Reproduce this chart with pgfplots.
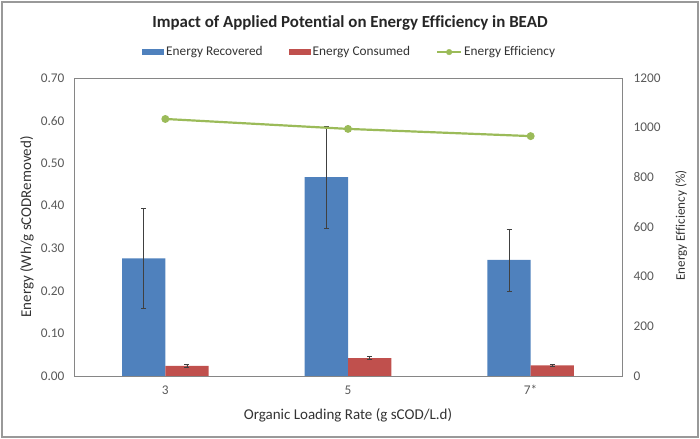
\documentclass[border=0pt]{standalone}
\usepackage{pgfplots}
\pgfplotsset{compat=1.18}
\usepackage{fontspec}
\setmainfont{Carlito}[Ligatures={NoCommon,NoRequired,NoContextual}]
\definecolor{cblue}{HTML}{4F81BD}
\definecolor{cred}{HTML}{C0504D}
\definecolor{cgreen}{HTML}{9BBB59}
\definecolor{ctext}{HTML}{595959}
\definecolor{caxis}{HTML}{868686}
\definecolor{cerr}{HTML}{404040}
\newcommand{\fs}{\fontsize{13.3bp}{15bp}\selectfont}
\newcommand{\fl}{\fontsize{15bp}{17bp}\selectfont}
\begin{document}
\begin{tikzpicture}
\useasboundingbox (0bp,0bp) rectangle (700bp,439bp);
\draw[line width=2bp, color=black!40] (2bp,2bp) rectangle (698bp,437bp);
\node[font=\fontsize{16.9bp}{19bp}\selectfont\bfseries, text=black!85] at (350bp,416bp) {Impact of Applied Potential on Energy Efficiency in BEAD};
\begin{axis}[
  at={(74bp,63bp)}, anchor=south west,
  scale only axis, width=548bp, height=298bp,
  xmin=-0.5, xmax=2.5, ymin=0, ymax=0.7,
  xtick={0,1,2}, xticklabels={3,5,7*},
  ytick={0,0.1,0.2,0.3,0.4,0.5,0.6,0.7},
  yticklabels={0.00,0.10,0.20,0.30,0.40,0.50,0.60,0.70},
  major tick length=0pt,
  axis line style={caxis},
  every tick label/.append style={font=\fs, text=ctext},
  xticklabel style={yshift=-6bp},
  yticklabel style={xshift=-6bp},
  ytick pos=left, xtick pos=bottom,
  ylabel={Energy (Wh/g sCODRemoved)},
  xlabel={Organic Loading Rate (g sCOD/L.d)},
  label style={font=\fl, text=black!80},
  ylabel style={at={(axis description cs:-0.0858,0.5)}, anchor=center},
  xlabel style={at={(axis description cs:0.5,-0.131)}, anchor=center},
  legend columns=3,
  legend style={at={(axis description cs:0.503,1.087)}, anchor=center, draw=none, fill=none,
    font=\fs, text=black!80,
    /tikz/every even column/.append style={column sep=24bp},
    nodes={inner xsep=2bp}},
  ybar, bar width=0.237,
  error bars/error bar style={cerr, line width=0.7bp},
  error bars/error mark options={rotate=90, mark size=2.5bp, cerr, line width=0.7bp},
]
\addplot[fill=cblue, draw=none, bar shift=-0.1185,
  legend image code/.code={\fill[cblue] (0bp,-3bp) rectangle (22bp,3bp);},
  error bars/.cd, y dir=both, y explicit]
  coordinates {(0,0.2765) +- (0,0.117) (1,0.467) +- (0,0.12) (2,0.2725) +- (0,0.073)};
\addlegendentry{Energy Recovered}
\addplot[fill=cred, draw=none, bar shift=0.1185,
  legend image code/.code={\fill[cred] (0bp,-3bp) rectangle (22bp,3bp);},
  error bars/.cd, y dir=both, y explicit]
  coordinates {(0,0.0235) +- (0,0.003) (1,0.042) +- (0,0.003) (2,0.025) +- (0,0.0012)};
\addlegendentry{Energy Consumed}
\addlegendimage{legend image code/.code={\draw[cgreen, line width=2.2bp] (0bp,0bp) -- (24bp,0bp); \fill[cgreen] (12bp,0bp) circle (2.8bp);}}
\addlegendentry{Energy Efficiency}
\end{axis}
\begin{axis}[
  at={(74bp,63bp)}, anchor=south west,
  scale only axis, width=548bp, height=298bp,
  xmin=-0.5, xmax=2.5, ymin=0, ymax=1200,
  xtick=\empty,
  ytick={0,200,400,600,800,1000,1200},
  yticklabels={0,200,400,600,800,1000,1200},
  major tick length=0pt,
  axis line style={caxis},
  ytick pos=right, yticklabel pos=right,
  every tick label/.append style={font=\fs, text=ctext},
  yticklabel style={xshift=8bp},
  ylabel={Energy Efficiency (\%)},
  label style={font=\fontsize{13.1bp}{15bp}\selectfont, text=black!80},
  ylabel style={at={(axis description cs:1.108,0.505)}, anchor=center},
]
\addplot[cgreen, line width=2.2bp, mark=*, mark size=2.8bp, mark options={fill=cgreen, draw=cgreen}]
  coordinates {(0,1035) (1,995) (2,966)};
\end{axis}
\end{tikzpicture}
\end{document}
